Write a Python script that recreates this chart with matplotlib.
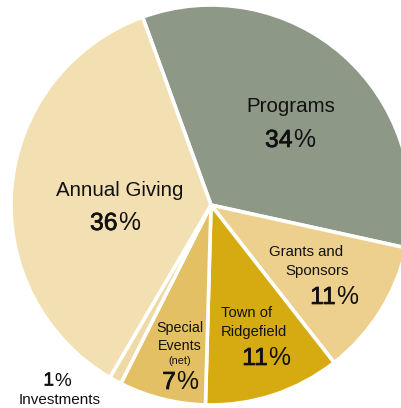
import matplotlib
matplotlib.use("Agg")
import matplotlib.pyplot as plt
import matplotlib.patheffects as pe

categories = ["Programs", "Grants and Sponsors", "Town of Ridgefield",
              "Special Events (net)", "Investments", "Annual Giving"]
values = [34, 11, 11, 7, 1, 36]
colors = ["#8E9887", "#EDD08D", "#D6AB12", "#E3C064", "#EFDAA6", "#F2DFB2"]

W, H = 401, 408
cx, cy, R = 211, 205, 200

fig = plt.figure(figsize=(W / 100, H / 100), dpi=100)
ax = fig.add_axes([0, 0, 1, 1])
ax.pie(values, colors=colors, startangle=110, counterclock=False,
       radius=1.0, wedgeprops=dict(edgecolor="white", linewidth=2.6))
ax.set_aspect("auto")
ax.set_xlim(-cx / R, (W - cx) / R)
ax.set_ylim(-(H - cy) / R, cy / R)
ax.axis("off")

FONT = "Liberation Sans"
INK = "#111111"


def put(px, py, s, size, ha="center", stroke=0.0):
    t = ax.text((px - cx) / R, (cy - py) / R, s, ha=ha, va="center",
                fontsize=size, family=FONT, color=INK)
    if stroke:
        t.set_path_effects([pe.withStroke(linewidth=stroke, foreground=INK)])
    return t


def pct(px, py, v, size):
    # digits heavier, percent sign regular, centred as one string
    em = size * 100 / 72
    d = str(v)
    dw = len(d) * 0.556 * em
    total = dw + 0.889 * em
    split = px - total / 2 + dw
    put(split, py, d, size, ha="right", stroke=0.5)
    put(split + 0.5, py, "%", size, ha="left")


put(291, 107, "Programs", 14.8)
pct(290, 140, values[0], 17.8)
put(120, 190, "Annual Giving", 14.8)
pct(115, 223, values[5], 17.8)
put(306, 252, "Grants and", 10.8)
put(317, 271, "Sponsors", 10.8)
pct(333, 297, values[1], 17.8)
put(247, 313, "Town of", 10.6)
put(254, 332, "Ridgefield", 10.6)
pct(265, 358, values[2], 17.8)
put(180, 328, "Special", 10.3)
put(180, 346, "Events", 10.3)
put(180, 361, "(net)", 7.8)
pct(180, 382, values[3], 17.8)
pct(57, 381, values[4], 13.6)
put(60, 400, "Investments", 11)

fig.savefig("out.png", dpi=100)
